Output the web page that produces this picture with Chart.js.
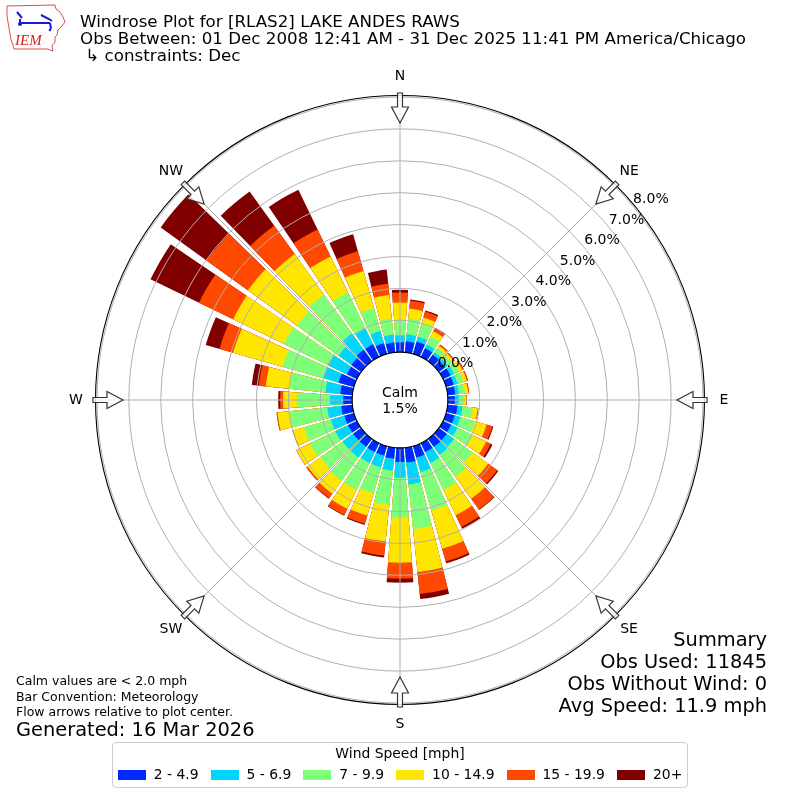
<!DOCTYPE html>
<html>
<head>
<meta charset="utf-8">
<title>Windrose Plot for [RLAS2] LAKE ANDES RAWS</title>
<script src="https://cdn.jsdelivr.net/npm/chart.js@4.4.1/dist/chart.umd.min.js"></script>
<style>
  body { margin: 0; background: #fff; }
  #wrap { position: relative; width: 800px; height: 800px; font-family: 'DejaVu Sans', sans-serif; color: #000; }
  #rose { position: absolute; left: 0; top: 0; }
  .t { position: absolute; white-space: nowrap; line-height: 1; }
  #legend { position: absolute; left: 112px; top: 742px; width: 574px; height: 44px; border: 1px solid #cccccc; border-radius: 4px; background: #fff; }
  #legend .ttl { position: absolute; left: 0; width: 100%; top: 4px; text-align: center; font-size: 13.9px; line-height: 1; }
  #legendRow { position: absolute; left: 0; width: 100%; top: 25px; display: flex; justify-content: center; font-size: 13.9px; line-height: 1; white-space: nowrap; }
  #legendRow .it { display: flex; align-items: center; margin: 0 6px; flex: none; white-space: nowrap; }
  #legendRow .sw { width: 28px; height: 10px; margin-right: 8px; flex: none; }
</style>
</head>
<body>
<div id="wrap">
  <canvas id="rose" width="800" height="800"></canvas>

  <svg style="position:absolute;left:0;top:0" width="70" height="56" viewBox="0 0 70 56">
    <path d="M7,6 L55,5 L56,9 L60,12 L63,17 L65,22 L61,27 L58,30 L57,35 L55,37 L55,42 L52,46 L53,51 L47,49 L14,49 L13,45 L11,40 L10,34 L9,28 L8,22 L7,16 Z"
          fill="none" stroke="#d62020" stroke-width="0.8"/>
    <path d="M17,12 L22,18 M20,19 L20,24 M21,23 L50,23 M41,15 L49,19 L52,21 M50,23 L51,29" stroke="#1a1ad8" stroke-width="2" fill="none"/>
    <circle cx="20" cy="24" r="2" fill="#1a1ad8"/>
    <circle cx="50" cy="30" r="1.3" fill="#1a1ad8"/>
    <text x="15" y="45" font-family="'Liberation Serif', serif" font-style="italic" font-size="15" fill="#d62020">IEM</text>
  </svg>

  <div class="t" style="left:80px;top:12.5px;font-size:16.7px">Windrose Plot for [RLAS2] LAKE ANDES RAWS</div>
  <div class="t" style="left:80px;top:29.5px;font-size:16.7px">Obs Between: 01 Dec 2008 12:41 AM - 31 Dec 2025 11:41 PM America/Chicago</div>
  <div class="t" style="left:80px;top:46.5px;font-size:16.7px">&nbsp;↳ constraints: Dec</div>

  <div class="t" style="left:16px;top:675px;font-size:12.5px">Calm values are &lt; 2.0 mph</div>
  <div class="t" style="left:16px;top:690.5px;font-size:12.5px">Bar Convention: Meteorology</div>
  <div class="t" style="left:16px;top:706px;font-size:12.5px">Flow arrows relative to plot center.</div>
  <div class="t" style="left:16px;top:719.5px;font-size:19.4px">Generated: 16 Mar 2026</div>

  <div class="t" style="right:33px;top:629.5px;font-size:19.4px;text-align:right">Summary</div>
  <div class="t" style="right:33px;top:651.5px;font-size:19.4px;text-align:right">Obs Used: 11845</div>
  <div class="t" style="right:33px;top:673.5px;font-size:19.4px;text-align:right">Obs Without Wind: 0</div>
  <div class="t" style="right:33px;top:695.5px;font-size:19.4px;text-align:right">Avg Speed: 11.9 mph</div>

  <div id="legend">
    <div class="ttl">Wind Speed [mph]</div>
    <div id="legendRow"></div>
  </div>
</div>

<script>
// direction the wind blows from, degrees
const directions = [0, 10, 20, 30, 40, 50, 60, 70, 80, 90, 100, 110, 120, 130, 140, 150, 160, 170,
                    180, 190, 200, 210, 220, 230, 240, 250, 260, 270, 280, 290, 300, 310, 320, 330, 340, 350];

const speedBins = ['2 - 4.9', '5 - 6.9', '7 - 9.9', '10 - 14.9', '15 - 19.9', '20+'];
const binColors = ['#0028ff', '#00d4ff', '#7dff7a', '#ffe600', '#ff4800', '#800000'];

// percent of observations per direction and speed class
const spd2to5 = [0.31, 0.35, 0.40, 0.30, 0.25, 0.24, 0.26, 0.25, 0.24, 0.22,
                 0.31, 0.28, 0.28, 0.31, 0.31, 0.31, 0.38, 0.47, 0.44, 0.35,
                 0.31, 0.31, 0.31, 0.31, 0.31, 0.31, 0.35, 0.28, 0.38, 0.50,
                 0.35, 0.38, 0.44, 0.44, 0.35, 0.31];
const spd5to7 = [0.22, 0.22, 0.16, 0.13, 0.10, 0.10, 0.12, 0.12, 0.12, 0.12,
                 0.16, 0.19, 0.22, 0.28, 0.31, 0.38, 0.47, 0.69, 0.50, 0.38,
                 0.38, 0.38, 0.41, 0.41, 0.44, 0.44, 0.44, 0.41, 0.47, 0.50,
                 0.66, 0.50, 0.63, 0.56, 0.40, 0.25];
const spd7to10 = [0.50, 0.50, 0.44, 0.28, 0.16, 0.15, 0.18, 0.20, 0.19, 0.18,
                  0.31, 0.47, 0.53, 0.72, 0.85, 0.94, 1.25, 1.41, 1.25, 1.07,
                  0.85, 0.94, 0.90, 0.85, 0.88, 0.88, 1.19, 1.04, 1.13, 1.32,
                  1.54, 1.60, 1.50, 1.25, 0.75, 0.50];
const spd10to15 = [0.53, 0.31, 0.19, 0.18, 0.09, 0.09, 0.11, 0.11, 0.10, 0.06,
                   0.17, 0.38, 0.47, 0.60, 0.85, 0.88, 1.25, 1.35, 1.41, 1.16,
                   0.72, 0.66, 0.50, 0.50, 0.47, 0.35, 0.38, 0.44, 0.75, 1.62,
                   1.76, 1.90, 1.57, 1.25, 1.20, 0.75];
const spd15to20 = [0.31, 0.25, 0.19, 0.10, 0.04, 0.03, 0.04, 0.03, 0.03, 0.02,
                   0.02, 0.19, 0.16, 0.35, 0.41, 0.41, 0.41, 0.69, 0.50, 0.44,
                   0.28, 0.22, 0.18, 0.05, 0.01, 0.02, 0.03, 0.09, 0.22, 0.44,
                   1.19, 1.60, 1.10, 0.94, 0.65, 0.35];
const spd20up = [0.09, 0.04, 0.04, 0.03, 0.01, 0.01, 0.01, 0.01, 0.00, 0.00,
                 0.00, 0.03, 0.06, 0.04, 0.02, 0.06, 0.06, 0.16, 0.13, 0.06,
                 0.03, 0.02, 0.02, 0.00, 0.00, 0.00, 0.00, 0.06, 0.22, 0.45,
                 1.69, 1.77, 1.32, 1.38, 0.55, 0.45];

const calmPct = 1.5;
const ringTicks = [0, 1, 2, 3, 4, 5, 6, 7, 8];
const compass = ['N', 'NE', 'E', 'SE', 'S', 'SW', 'W', 'NW'];

const maxPct = ringTicks[ringTicks.length - 1];
const barDeg = 8.4, gapDeg = 1.6;

// stacked totals, drawn biggest first so the inner classes sit on top
const bins = [spd2to5, spd5to7, spd7to10, spd10to15, spd15to20, spd20up];
const cumulative = [];
let running = directions.map(() => 0);
bins.forEach(b => {
  running = running.map((v, i) => v + b[i]);
  cumulative.push(running.slice());
});

// every direction gets a bar slot followed by a small empty slot
const slotLabels = [];
directions.forEach(d => { slotLabels.push(d + '°'); slotLabels.push(''); });

const datasets = cumulative.map((c, k) => ({
  label: speedBins[k],
  data: c.flatMap(v => [v, -calmPct]),
  backgroundColor: binColors[k],
  borderWidth: 0,
  angle: ctx => (ctx.dataIndex % 2 ? gapDeg : barDeg)
}));

const roseOverlay = {
  id: 'roseOverlay',
  afterDatasetsDraw(chart) {
    const s = chart.scales.r;
    const ctx = chart.ctx;
    const cx = s.xCenter, cy = s.yCenter;
    const rad = v => s.getDistanceFromCenterForValue(v);
    const at = (bearing, dist) => {
      const a = (bearing - 90) * Math.PI / 180;
      return { x: cx + Math.cos(a) * dist, y: cy + Math.sin(a) * dist };
    };
    ctx.save();

    // grid on top of the bars
    ctx.strokeStyle = '#b0b0b0';
    ctx.lineWidth = 1;
    ringTicks.forEach(v => {
      if (v <= 0) return;
      ctx.beginPath();
      ctx.arc(cx, cy, rad(v), 0, 2 * Math.PI);
      ctx.stroke();
    });
    compass.forEach((c, i) => {
      const a = at(i * 45, rad(0)), b = at(i * 45, rad(maxPct));
      ctx.beginPath();
      ctx.moveTo(a.x, a.y);
      ctx.lineTo(b.x, b.y);
      ctx.stroke();
    });

    // calm circle
    ctx.beginPath();
    ctx.arc(cx, cy, rad(0), 0, 2 * Math.PI);
    ctx.fillStyle = '#fff';
    ctx.fill();
    ctx.strokeStyle = '#000';
    ctx.lineWidth = 1.1;
    ctx.stroke();

    // outer spine
    ctx.beginPath();
    ctx.arc(cx, cy, rad(maxPct) + 1.5, 0, 2 * Math.PI);
    ctx.stroke();

    // flow arrows pointing to the centre
    const shape = [[0, -2.5], [14, -2.5], [14, -8.5], [30, 0], [14, 8.5], [14, 2.5], [0, 2.5]];
    compass.forEach((c, i) => {
      const b = i * 45 * Math.PI / 180;
      const ux = -Math.sin(b), uy = Math.cos(b);
      const px = Math.cos(b), py = Math.sin(b);
      const s0 = at(i * 45, rad(maxPct) + 4);
      ctx.beginPath();
      shape.forEach(([t, w], k) => {
        const x = s0.x + ux * t + px * w, y = s0.y + uy * t + py * w;
        if (k) ctx.lineTo(x, y); else ctx.moveTo(x, y);
      });
      ctx.closePath();
      ctx.fillStyle = 'rgba(255,255,255,0.8)';
      ctx.fill();
      ctx.strokeStyle = '#333';
      ctx.lineWidth = 1.2;
      ctx.stroke();
    });

    // ring labels
    ctx.fillStyle = '#000';
    ctx.font = "14px 'DejaVu Sans'";
    ctx.textAlign = 'left';
    ctx.textBaseline = 'alphabetic';
    ringTicks.forEach(v => {
      const p = at(50, rad(v));
      ctx.fillText(v.toFixed(1) + '%', p.x + 1, p.y - 2);
    });

    // compass labels
    ctx.textAlign = 'center';
    ctx.textBaseline = 'middle';
    compass.forEach((c, i) => {
      const p = at(i * 45, rad(maxPct) + 21);
      ctx.fillText(c, p.x, p.y);
    });

    // calm text
    ctx.textBaseline = 'alphabetic';
    ctx.fillText('Calm', cx, cy - 3);
    ctx.fillText(calmPct.toFixed(1) + '%', cx, cy + 13);
    ctx.restore();
  }
};

// legend
const row = document.getElementById('legendRow');
speedBins.forEach((lab, k) => {
  const it = document.createElement('span');
  it.className = 'it';
  const sw = document.createElement('span');
  sw.className = 'sw';
  sw.style.background = binColors[k];
  const tx = document.createElement('span');
  tx.textContent = lab;
  it.appendChild(sw);
  it.appendChild(tx);
  row.appendChild(it);
});

new Chart(document.getElementById('rose'), {
  type: 'polarArea',
  data: { labels: slotLabels, datasets: datasets },
  options: {
    responsive: false,
    animation: false,
    events: [],
    layout: { padding: 97 },
    plugins: { legend: { display: false }, tooltip: { enabled: false } },
    scales: {
      r: {
        min: -calmPct,
        max: maxPct,
        startAngle: -barDeg / 2,
        ticks: { display: false },
        grid: { display: false },
        angleLines: { display: false },
        pointLabels: { display: false }
      }
    }
  },
  plugins: [roseOverlay]
});
</script>
</body>
</html>
